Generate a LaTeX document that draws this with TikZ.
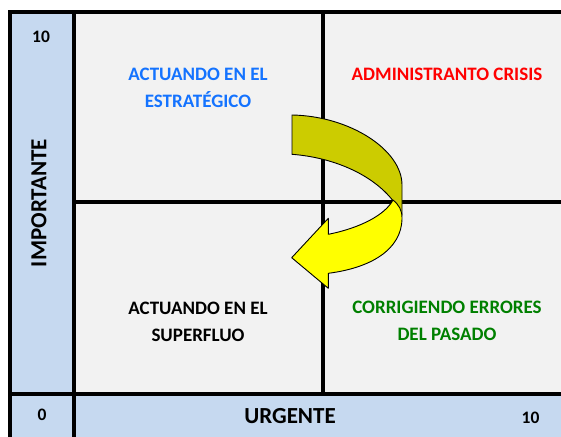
\documentclass[tikz,border=0pt]{standalone}
\usepackage{fontspec}
\setmainfont{Carlito}
\definecolor{cellgray}{RGB}{242,242,242}
\definecolor{axisblue}{RGB}{198,217,240}
\definecolor{qblue}{RGB}{20,115,255}
\definecolor{qred}{RGB}{255,0,0}
\definecolor{qgreen}{RGB}{0,128,0}
\definecolor{darkyel}{RGB}{204,204,0}
\definecolor{brightyel}{RGB}{255,255,0}
\tikzset{
  gridline/.style={line width=4pt, draw=black},
  lbl/.style={inner sep=0pt, align=center, font=\bfseries\fontsize{19}{27}\selectfont},
  axislbl/.style={inner sep=0pt, font=\bfseries\fontsize{23}{26}\selectfont},
  numlbl/.style={inner sep=0pt, font=\bfseries\fontsize{17.5}{20}\selectfont},
  arrowpart/.style={draw=black, line width=0.9pt, line join=round}
}
\begin{document}
\begin{tikzpicture}[x=1pt,y=-1pt]
\useasboundingbox (0,0) rectangle (561,436);
\clip (0,0) rectangle (561,436);
% backgrounds
\fill[axisblue] (10,12) rectangle (580,450);
\fill[cellgray] (74,12) rectangle (580,394);
% grid
\draw[gridline] (10,450) -- (10,12) -- (580,12);
\draw[gridline] (74,12) -- (74,450);
\draw[gridline] (10,394) -- (580,394);
\draw[gridline] (74,202) -- (580,202);
\draw[gridline] (322.7,12) -- (322.7,394);
% labels
\node[numlbl] (ytop) at (41,37) {10};
\node[numlbl] (zero) at (42,414.5) {0};
\node[numlbl] (xtop) at (530.5,418) {10};
\node[axislbl] (urg) at (290,416) {URGENTE};
\node[axislbl, rotate=90] (imp) at (39,203) {IMPORTANTE};
\node[lbl, text=qblue] (q1) at (198,87.5) {ACTUANDO EN EL\\ESTRATÉGICO};
\node[lbl, text=qred] (q2) at (447,74) {ADMINISTRANTO CRISIS};
\node[lbl, text=black] (q3) at (198,321.5) {ACTUANDO EN EL\\SUPERFLUO};
\node[lbl, text=qgreen] (q4) at (447,320.5) {CORRIGIENDO ERRORES\\DEL PASADO};
% curved arrow: back (dark) part
\draw[arrowpart, fill=darkyel] (292,115) .. controls (350,116) and (402,150) .. (402,185)
  -- (402,215) .. controls (385,180) and (340,158) .. (292,154.3) -- cycle;
% front (yellow) part with head
\draw[arrowpart, fill=brightyel] (328.3,218.3) -- (328.3,234.3)
  .. controls (360,228) and (385,215) .. (393,200)
  .. controls (399,205) and (402,210) .. (402,218)
  .. controls (402,250) and (370,268) .. (328.3,273.3)
  -- (328.3,288.3) -- (291.7,257.7) -- cycle;
\end{tikzpicture}
\end{document}
